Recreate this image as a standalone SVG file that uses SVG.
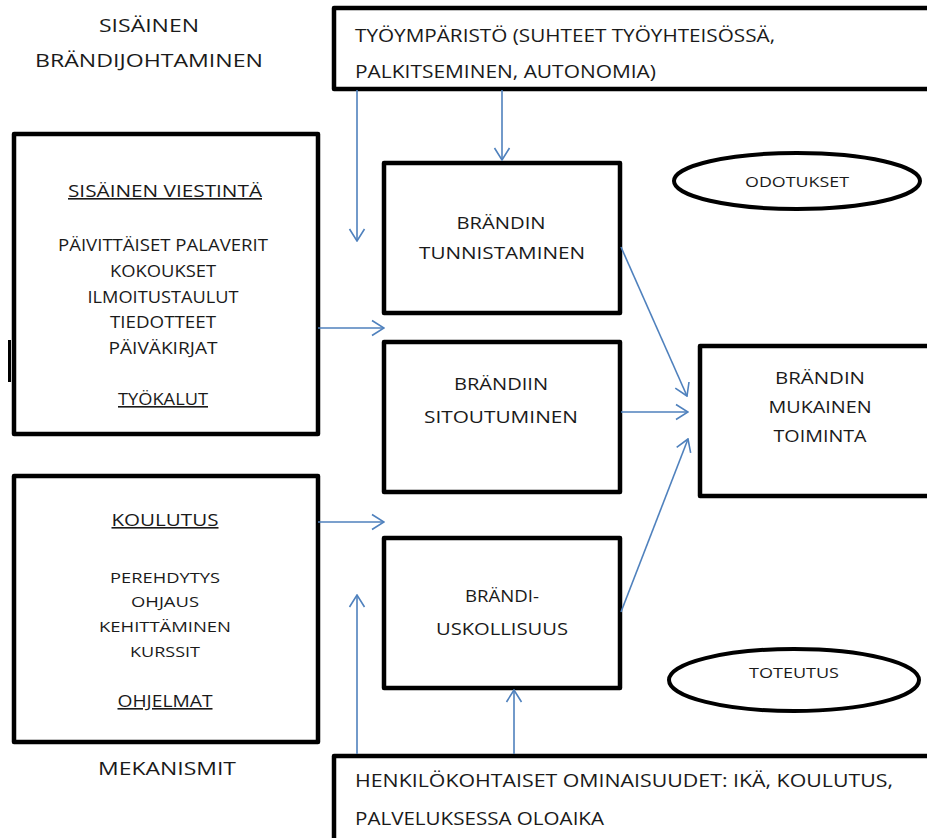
<svg xmlns="http://www.w3.org/2000/svg" width="927" height="838" viewBox="0 0 927 838">
  <style>
    .box { fill: #ffffff; stroke: #000000; stroke-width: 4.5; stroke-linejoin: round; }
    .oval { fill: #ffffff; stroke: #000000; stroke-width: 4; }
    text { font-family: "Open Sans", "Liberation Sans", sans-serif; fill: #1a1a1a; }
    .c { text-anchor: middle; }
    .big { font-size: 18px; }
    .mid { font-size: 16px; }
    .sm { font-size: 15px; }
    .u { text-decoration: underline; }
    .conn line { stroke: #4F81BD; stroke-width: 1.6; fill: none; }
  </style>
  <defs>
    <marker id="arrow" viewBox="0 0 14 18" refX="13" refY="9" markerWidth="14" markerHeight="18" markerUnits="userSpaceOnUse" orient="auto">
      <path d="M1,1.5 L13,9 L1,16.5" fill="none" stroke="#4F81BD" stroke-width="1.6"/>
    </marker>
  </defs>

  <rect width="927" height="838" fill="#ffffff"/>

  <!-- heading labels -->
  <g id="title">
    <text class="big c" x="149" y="32" textLength="100" lengthAdjust="spacingAndGlyphs">SISÄINEN</text>
    <text class="big c" x="149" y="67" textLength="228" lengthAdjust="spacingAndGlyphs">BRÄNDIJOHTAMINEN</text>
  </g>
  <g id="mechanisms-label">
    <text class="big c" x="167" y="775" textLength="138" lengthAdjust="spacingAndGlyphs">MEKANISMIT</text>
  </g>

  <!-- work environment -->
  <g id="work-environment">
    <rect class="box" x="334" y="8" width="600" height="81"/>
    <text class="big" x="355" y="42" textLength="420" lengthAdjust="spacingAndGlyphs">TYÖYMPÄRISTÖ (SUHTEET TYÖYHTEISÖSSÄ,</text>
    <text class="big" x="355" y="78" textLength="301" lengthAdjust="spacingAndGlyphs">PALKITSEMINEN, AUTONOMIA)</text>
  </g>

  <!-- internal communication -->
  <g id="internal-communication">
    <rect class="box" x="14" y="134" width="304" height="300"/>
    <rect x="8" y="340" width="3" height="42" fill="#000000"/>
    <text class="mid c u" x="165" y="197" textLength="194" lengthAdjust="spacingAndGlyphs">SISÄINEN VIESTINTÄ</text>
    <text class="mid c" x="163" y="251" textLength="210" lengthAdjust="spacingAndGlyphs">PÄIVITTÄISET PALAVERIT</text>
    <text class="mid c" x="163" y="277" textLength="106" lengthAdjust="spacingAndGlyphs">KOKOUKSET</text>
    <text class="mid c" x="163" y="303" textLength="151" lengthAdjust="spacingAndGlyphs">ILMOITUSTAULUT</text>
    <text class="mid c" x="163" y="328" textLength="106" lengthAdjust="spacingAndGlyphs">TIEDOTTEET</text>
    <text class="mid c" x="163" y="354" textLength="109" lengthAdjust="spacingAndGlyphs">PÄIVÄKIRJAT</text>
    <text class="mid c u" x="163" y="405" textLength="90" lengthAdjust="spacingAndGlyphs">TYÖKALUT</text>
  </g>

  <!-- training -->
  <g id="training">
    <rect class="box" x="14" y="476" width="304" height="266"/>
    <text class="mid c u" x="165" y="526" textLength="107" lengthAdjust="spacingAndGlyphs">KOULUTUS</text>
    <text class="sm c" x="165" y="583" textLength="110" lengthAdjust="spacingAndGlyphs">PEREHDYTYS</text>
    <text class="sm c" x="165" y="607" textLength="68" lengthAdjust="spacingAndGlyphs">OHJAUS</text>
    <text class="sm c" x="165" y="632" textLength="132" lengthAdjust="spacingAndGlyphs">KEHITTÄMINEN</text>
    <text class="sm c" x="165" y="657" textLength="70" lengthAdjust="spacingAndGlyphs">KURSSIT</text>
    <text class="mid c u" x="165" y="707" textLength="95" lengthAdjust="spacingAndGlyphs">OHJELMAT</text>
  </g>

  <!-- brand identification -->
  <g id="brand-identification">
    <rect class="box" x="384" y="163" width="236" height="150"/>
    <text class="mid c" x="501" y="229" textLength="89" lengthAdjust="spacingAndGlyphs">BRÄNDIN</text>
    <text class="mid c" x="502" y="259" textLength="166" lengthAdjust="spacingAndGlyphs">TUNNISTAMINEN</text>
  </g>

  <!-- brand commitment -->
  <g id="brand-commitment">
    <rect class="box" x="384" y="342" width="236" height="150"/>
    <text class="mid c" x="501" y="390" textLength="94" lengthAdjust="spacingAndGlyphs">BRÄNDIIN</text>
    <text class="mid c" x="501" y="423" textLength="154" lengthAdjust="spacingAndGlyphs">SITOUTUMINEN</text>
  </g>

  <!-- brand loyalty -->
  <g id="brand-loyalty">
    <rect class="box" x="384" y="538" width="236" height="150"/>
    <text class="mid c" x="502" y="602" textLength="74" lengthAdjust="spacingAndGlyphs">BRÄNDI-</text>
    <text class="mid c" x="502" y="635" textLength="132" lengthAdjust="spacingAndGlyphs">USKOLLISUUS</text>
  </g>

  <!-- brand-consistent behaviour -->
  <g id="brand-behaviour">
    <rect class="box" x="700" y="346" width="240" height="150"/>
    <text class="mid c" x="820" y="384" textLength="90" lengthAdjust="spacingAndGlyphs">BRÄNDIN</text>
    <text class="mid c" x="820" y="413" textLength="103" lengthAdjust="spacingAndGlyphs">MUKAINEN</text>
    <text class="mid c" x="820" y="442" textLength="93" lengthAdjust="spacingAndGlyphs">TOIMINTA</text>
  </g>

  <!-- expectations -->
  <g id="expectations">
    <ellipse class="oval" cx="797" cy="181" rx="123" ry="28"/>
    <text class="sm c" x="797" y="187" textLength="104" lengthAdjust="spacingAndGlyphs">ODOTUKSET</text>
  </g>

  <!-- implementation -->
  <g id="implementation">
    <ellipse class="oval" cx="794" cy="680" rx="125" ry="31"/>
    <text class="sm c" x="794" y="678" textLength="90" lengthAdjust="spacingAndGlyphs">TOTEUTUS</text>
  </g>

  <!-- personal characteristics -->
  <g id="personal-characteristics">
    <rect class="box" x="334" y="756" width="600" height="100"/>
    <text class="big" x="355" y="787" textLength="538" lengthAdjust="spacingAndGlyphs">HENKILÖKOHTAISET OMINAISUUDET: IKÄ, KOULUTUS,</text>
    <text class="big" x="355" y="825" textLength="249" lengthAdjust="spacingAndGlyphs">PALVELUKSESSA OLOAIKA</text>
  </g>

  <!-- connectors -->
  <g id="connectors" class="conn">
    <line x1="357" y1="90" x2="357" y2="241" marker-end="url(#arrow)"/>
    <line x1="502" y1="90" x2="502" y2="160" marker-end="url(#arrow)"/>
    <line x1="318" y1="328" x2="384" y2="328" marker-end="url(#arrow)"/>
    <line x1="318" y1="522" x2="384" y2="522" marker-end="url(#arrow)"/>
    <line x1="357" y1="754" x2="357" y2="595" marker-end="url(#arrow)"/>
    <line x1="514" y1="754" x2="514" y2="690" marker-end="url(#arrow)"/>
    <line x1="621" y1="247" x2="687" y2="396" marker-end="url(#arrow)"/>
    <line x1="621" y1="412" x2="688" y2="412" marker-end="url(#arrow)"/>
    <line x1="621" y1="612" x2="688" y2="439" marker-end="url(#arrow)"/>
  </g>
</svg>
